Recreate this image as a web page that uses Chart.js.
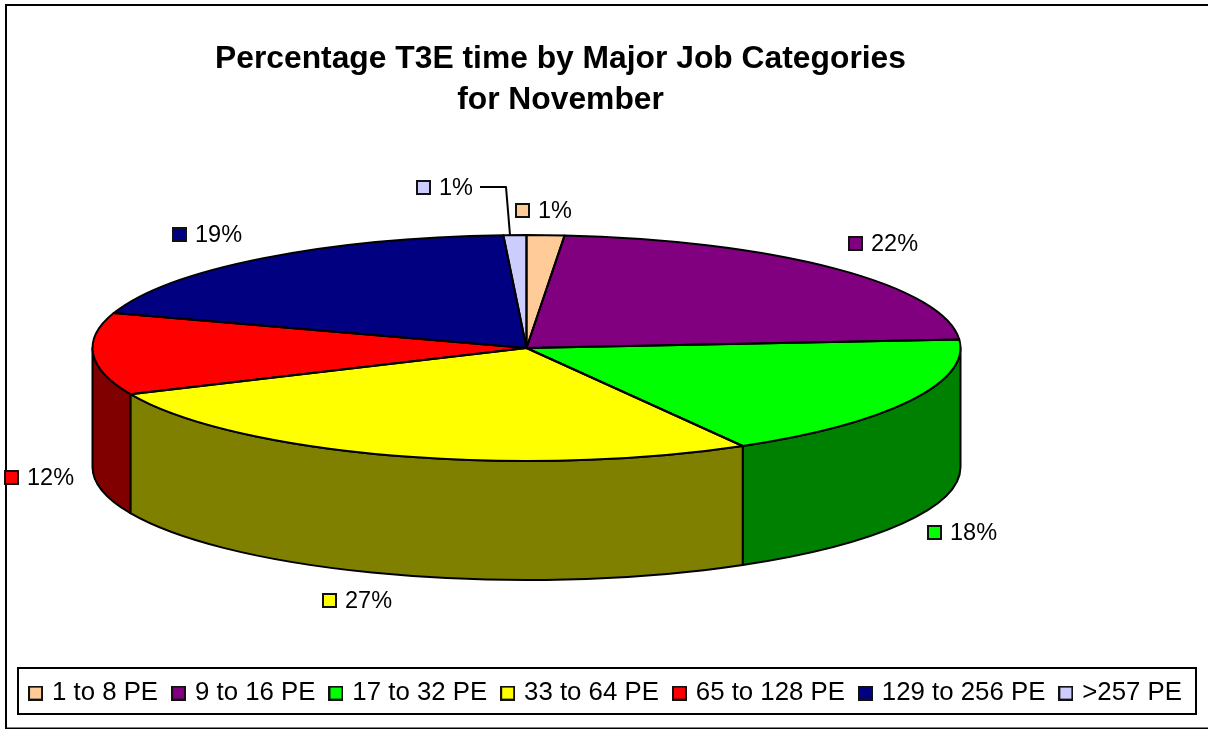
<!DOCTYPE html>
<html>
<head>
<meta charset="utf-8">
<style>html,body{margin:0;padding:0;background:#fff}canvas{display:block}</style>
<script src="https://cdn.jsdelivr.net/npm/chart.js@4/dist/chart.umd.min.js"></script>
</head>
<body>
<div style="width:1208px;height:729px"><canvas id="c" width="1208" height="729"></canvas></div>
<script>
const titleLines = ['Percentage T3E time by Major Job Categories', 'for November'];
const categories = ['1 to 8 PE', '9 to 16 PE', '17 to 32 PE', '33 to 64 PE', '65 to 128 PE', '129 to 256 PE', '>257 PE'];
const shares = [1.4, 22.4, 17.9, 26.6, 11.7, 19.15, 0.85];
const topColors = ['#FFCC99', '#800080', '#00FF00', '#FFFF00', '#FF0000', '#000080', '#CCCCFF'];
const wallColors = ['#806633', '#400040', '#008000', '#808000', '#800000', '#000040', '#666680'];

// Page layout of the tilted pie and of the value labels (not data).
const disc = { cx: 526.5, cy: 348, rx: 434, ry: 113, depth: 119 };
const labelSpots = [[515, 210], [848, 243], [927, 532], [322, 600], [4, 477], [172, 234], [416, 187]];
const FONT = '"Liberation Sans", Arial, sans-serif';
const LABEL_SIZE = 23.5;
const LEGEND_SIZE = 25.8;

function makeKey(color) {
  const k = document.createElement('canvas');
  k.width = 15; k.height = 15;
  const g = k.getContext('2d');
  g.fillStyle = color; g.fillRect(1, 1, 13, 13);
  g.strokeStyle = '#111'; g.lineWidth = 2; g.strokeRect(1, 1, 13, 13);
  return k;
}
const keys = topColors.map(makeKey);

const tiltedPie = {
  id: 'tiltedPie',
  afterLayout(chart) {
    // the reference's title is centred left of the canvas middle
    chart.titleBlock.left = 0;
    chart.titleBlock.right = 1121;
    // and its legend row slightly right of it
    chart.legend.left += 3;
    chart.legend.right += 3;
  },
  beforeDraw(chart) {
    const c = chart.ctx;
    c.save();
    c.fillStyle = '#fff'; c.fillRect(0, 0, chart.width, chart.height);
    c.strokeStyle = '#000'; c.lineWidth = 2;
    c.strokeRect(6, 5, 1300, 723.5);
    c.strokeRect(18, 668, 1178, 46);
    c.restore();
  },
  beforeDatasetsDraw(chart) {
    const c = chart.ctx, arcs = chart.getDatasetMeta(0).data, d = disc;
    c.save();
    c.lineWidth = 2; c.strokeStyle = '#000'; c.lineJoin = 'round';
    arcs.forEach((a, i) => {
      const s = Math.max(a.startAngle, 0), e = Math.min(a.endAngle, Math.PI);
      if (e <= s) return;
      c.beginPath();
      c.ellipse(d.cx, d.cy, d.rx, d.ry, 0, s, e);
      c.ellipse(d.cx, d.cy + d.depth, d.rx, d.ry, 0, e, s, true);
      c.closePath();
      c.fillStyle = wallColors[i];
      c.fill(); c.stroke();
    });
    c.restore();
    const a0 = arcs[0];
    c.save();
    c.translate(d.cx, d.cy);
    c.scale(d.rx / a0.outerRadius, d.ry / a0.outerRadius);
    c.translate(-a0.x, -a0.y);
  },
  afterDatasetsDraw(chart) {
    const c = chart.ctx, arcs = chart.getDatasetMeta(0).data, d = disc;
    c.restore();
    c.save();
    c.lineWidth = 2; c.strokeStyle = '#000'; c.lineJoin = 'round';
    arcs.forEach(a => {
      c.beginPath();
      c.moveTo(d.cx, d.cy);
      c.ellipse(d.cx, d.cy, d.rx, d.ry, 0, a.startAngle, a.endAngle);
      c.closePath();
      c.stroke();
    });
    // value labels with legend keys
    c.font = LABEL_SIZE + 'px ' + FONT;
    c.fillStyle = '#000'; c.textBaseline = 'middle'; c.textAlign = 'left';
    shares.forEach((v, i) => {
      const [x, y] = labelSpots[i];
      c.drawImage(keys[i], x, y - 7);
      c.fillText(Math.max(1, Math.round(v)) + '%', x + 23, y + 2);
    });
    // leader line of the last label
    c.lineWidth = 2;
    c.beginPath(); c.moveTo(480, 187); c.lineTo(506, 187); c.lineTo(510, 235); c.stroke();
    c.restore();
  }
};

new Chart(document.getElementById('c'), {
  type: 'pie',
  data: {
    labels: categories,
    datasets: [{ data: shares, backgroundColor: topColors, borderWidth: 0, clip: false }]
  },
  options: {
    responsive: false,
    animation: false,
    layout: { padding: { bottom: 13 } },
    plugins: {
      tooltip: { enabled: false },
      title: {
        display: true,
        text: titleLines,
        color: '#000',
        font: { family: FONT, size: 31.8, weight: 'bold', lineHeight: 1.29 },
        padding: { top: 39, bottom: 20 }
      },
      legend: {
        position: 'bottom',
        labels: {
          color: '#000',
          font: { family: FONT, size: LEGEND_SIZE },
          usePointStyle: true,
          boxWidth: 7,
          padding: 17,
          generateLabels: () => categories.map((t, i) => ({
            text: t, index: i, hidden: false, lineWidth: 0,
            fillStyle: topColors[i], strokeStyle: '#000', pointStyle: keys[i], fontColor: '#000'
          }))
        }
      }
    }
  },
  plugins: [tiltedPie]
});
</script>
</body>
</html>
